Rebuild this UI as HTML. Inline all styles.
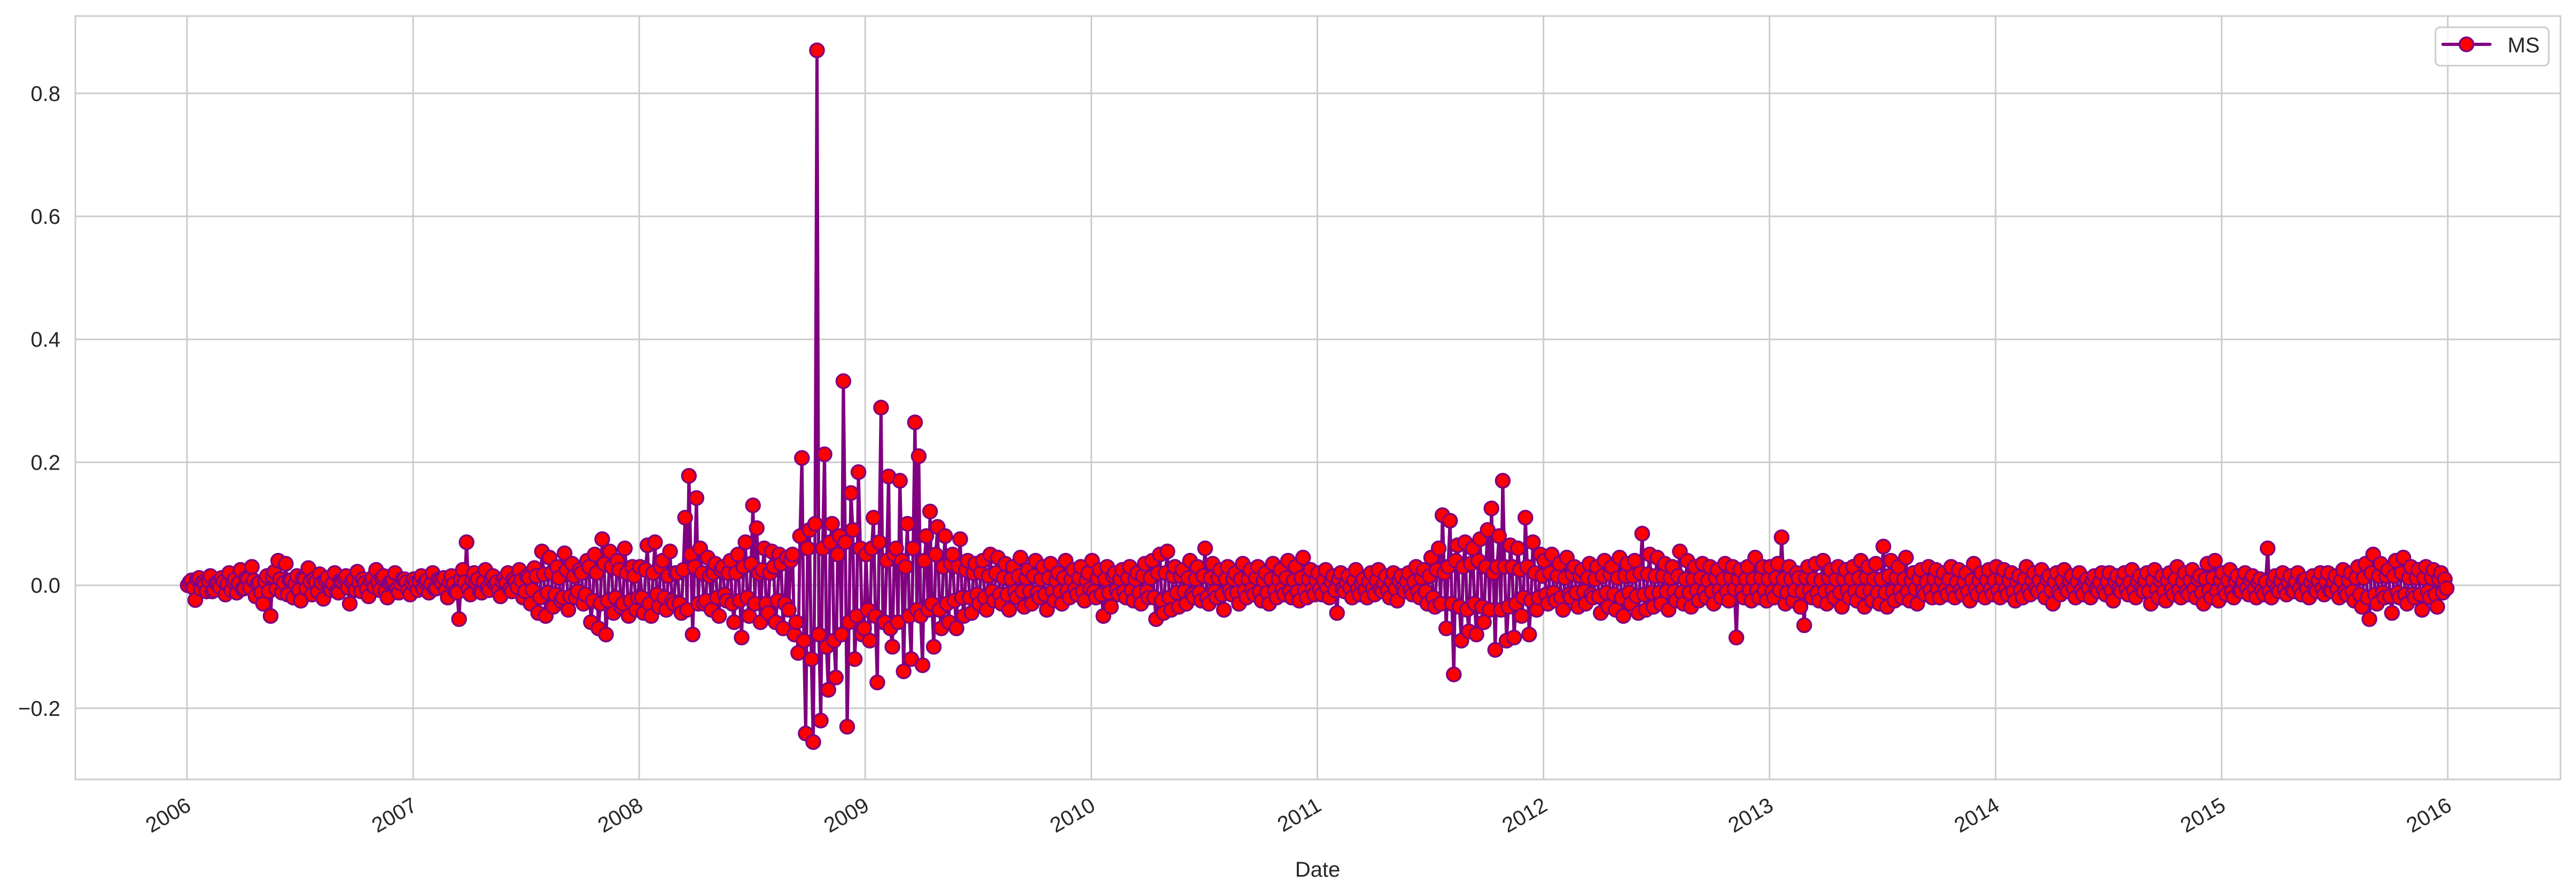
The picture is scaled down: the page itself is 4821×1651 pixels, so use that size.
<!DOCTYPE html>
<html><head><meta charset="utf-8"><style>
html,body{margin:0;padding:0;background:#fff;}
svg{display:block;font-family:"Liberation Sans",Arial,sans-serif;}
</style></head><body>
<svg id="chart" xmlns="http://www.w3.org/2000/svg" width="4821" height="1651" viewBox="0 0 4821 1651">
<rect width="4821" height="1651" fill="#fff"/>
<g id="grid"></g>
<g id="series"></g>
<g id="axes"></g>
<g>
<rect x="4558" y="51" width="212" height="72" rx="9" fill="#fff" fill-opacity="0.8" stroke="#cccccc" stroke-width="3"/>
<line x1="4572" y1="83" x2="4660" y2="83" stroke="#800080" stroke-width="6" stroke-linecap="round"/>
<circle cx="4616" cy="83" r="13" fill="#ff0000" stroke="#800080" stroke-width="3.5"/>
<text x="4693" y="98" font-size="40" fill="#262626">MS</text>
</g>
<text x="2466" y="1641" font-size="40" fill="#262626" text-anchor="middle">Date</text>
</svg>
<script>
const years=[2006,2007,2008,2009,2010,2011,2012,2013,2014,2015];
const yTicks=[-0.2,0,0.2,0.4,0.6,0.8];
const yTickLabels=["\u22120.2","0.0","0.2","0.4","0.6","0.8"];
const xTicks=[2006,2007,2008,2009,2010,2011,2012,2013,2014,2015,2016];
const v2006=[0,.008,-.024,.012,.005,-.01,.015,-.008,.003,.012,-.015,.02,.006,-.012,.025,-.005,.01,.03,-.018,.004,-.03,.015,-.05,.022,.04,-.012,.035,.008,-.02,.015,-.025,.01,.028,-.015,.005,.018,-.022,.012,-.008,.02,-.012,.006,.015,-.03,.01,.022,-.01,.004,-.018,.012,.025,-.008,.015,-.02,.006,.02,-.012,.01,.005,-.015];
const w2006=[.005,-.004,.01,-.006,.002,.008,-.01,.004,-.003,.006,.002,-.008,.01,.003,-.006,.012,-.004,.008,.002,-.012,.006,-.01,.015,-.006,.01,.004,-.015,.008,.002,-.008,.012,-.005,.006,.01,-.01,.004,.008,-.006,.003,-.01,.007,.012,-.004,.006,-.008,.004,.01,-.006,.008,-.003,.006,.012,-.01,.004,.008,-.006,.003,.01,-.008,.004];
const v2007=[.01,-.008,.015,.005,-.012,.02,-.005,.008,.012,-.02,.015,-.01,-.055,.025,.07,-.015,.02,.01,-.012,.025,-.008,.015,.005,-.018,.012,.02,-.01,.006,.025,-.02,.015,-.03,.028,-.045,.055,-.05,.045,-.035,.03,-.025,.052,-.04,.035,-.02,.025,-.03,.04,-.06,.05,-.07,.075,-.08,.055,-.045,.04,-.035,.06,-.05,.03,-.04];
const w2007=[.004,.006,-.005,.008,.002,-.006,.01,.003,-.008,.005,.002,-.012,.01,.005,-.006,.008,.004,-.01,.006,-.004,.01,.002,-.008,.006,.004,-.006,.01,-.003,.008,-.01,.012,-.008,.015,-.02,.018,-.012,.02,-.015,.012,-.02,.025,-.018,.015,-.01,.02,-.015,.03,-.025,.02,-.03,.035,-.025,.03,-.02,.025,-.03,.02,-.025,.015,-.02];
const v2008=[.03,-.045,.065,-.05,.07,-.035,.04,-.04,.055,-.03,.02,-.045,.11,.178,-.08,.142,.06,-.03,.045,-.04,.035,-.05,.03,-.025,.04,-.06,.05,-.085,.07,-.05,.13,.093,-.06,.06,-.045,.055,-.06,.05,-.07,.045,.04,-.08,-.11,.207,-.241,.09,-.255,.87,-.22,.213,-.17,.1,-.15,.08,.332,-.23,.15,-.12,.184,-.08];
const w2008=[-.02,.025,-.03,.02,-.015,.03,-.02,.015,-.025,.02,-.03,.025,-.04,.05,.03,-.03,.02,-.025,.015,.02,-.02,.025,-.015,.02,-.03,.02,-.025,.03,-.02,.035,-.03,.02,.025,-.03,.02,.03,-.025,.035,-.03,-.04,.05,-.06,.08,-.09,.06,-.12,.1,-.08,.06,-.1,.07,-.09,.05,-.08,.07,-.06,.09,-.05,.06,-.07];
const v2009=[.05,-.09,.11,-.158,.289,-.06,.177,-.1,.06,.17,-.14,.1,-.12,.265,.21,-.13,.08,.12,-.1,.095,-.07,.08,-.06,.05,-.07,.075,-.05,.04,-.045,.035,-.03,.04,-.04,.05,-.025,.045,-.03,.035,-.04,.03,-.02,.045,-.035,.025,-.03,.04,-.02,.03,-.04,.035,-.025,.02,-.03,.04,-.02,.025,-.015,.03,-.025,.02];
const w2009=[-.04,.06,-.05,.07,-.06,.04,-.07,.05,-.06,.04,.03,-.05,.06,-.04,-.05,.04,-.04,-.03,.05,-.04,.03,-.03,.035,-.025,.03,-.02,.025,-.02,.02,-.015,.02,-.02,.015,-.01,.02,-.015,.012,-.015,.01,-.01,.015,-.01,.012,-.01,.015,-.012,.01,-.015,.012,-.01,.008,-.01,.012,-.008,.01,-.006,.012,-.01,.008,-.006];
const v2010=[.04,-.02,.025,-.05,.03,-.035,.02,-.015,.025,-.02,.03,-.025,.02,-.03,.035,-.02,.04,-.055,.05,-.045,.055,-.04,.03,-.035,.025,-.03,.04,-.02,.03,-.025,.06,-.03,.035,-.02,.025,-.04,.03,-.015,.02,-.03,.035,-.02,.025,-.015,.03,-.025,.02,-.03,.035,-.02,.025,-.015,.04,-.02,.03,-.025,.045,-.02,.025,-.015];
const w2010=[-.01,.012,-.015,.01,-.012,.015,-.008,.01,-.01,.012,-.008,.01,-.012,.015,-.01,.012,-.02,.02,-.025,.02,-.02,.015,-.012,.015,-.01,.012,-.015,.01,-.012,.015,-.02,.012,-.01,.012,-.015,.01,-.008,.01,-.012,.01,-.008,.01,-.006,.012,-.01,.008,-.012,.01,-.008,.01,-.006,.012,-.01,.008,-.01,.012,-.008,.01,-.006,.008];
const v2011=[.02,-.015,.025,-.02,.015,-.045,.02,-.01,.015,-.02,.025,-.015,.01,-.02,.02,-.015,.025,-.01,.015,-.02,.02,-.025,.015,-.01,.02,-.015,.03,-.02,.025,-.03,.045,-.035,.06,.114,-.07,.105,-.145,.065,-.09,.07,-.075,.06,-.08,.075,-.06,.09,.125,-.105,.08,.17,-.09,.065,-.085,.06,-.05,.11,-.08,.07,-.04,.05];
const w2011=[-.006,.008,-.005,.006,-.008,.01,-.006,.005,-.004,.008,-.006,.004,-.008,.006,-.005,.008,-.006,.004,-.008,.006,-.006,.008,-.004,.006,-.008,.006,-.01,.012,-.01,.015,-.02,.025,-.03,.02,.03,-.03,.04,-.035,.03,-.04,.035,-.03,.04,-.035,.03,-.04,.02,.03,-.04,.03,-.035,.03,-.03,.025,-.02,.03,-.025,.02,-.02,.015];
const v2012=[.04,-.03,.05,-.025,.035,-.04,.045,-.02,.03,-.035,.025,-.03,.035,-.02,.03,-.045,.04,-.035,.03,-.04,.045,-.05,.035,-.03,.04,-.045,.084,-.04,.05,-.035,.045,-.03,.035,-.04,.03,-.025,.055,-.03,.04,-.035,.03,-.025,.035,-.02,.03,-.03,.025,-.02,.035,-.025,.03,-.085,.025,-.02,.03,-.025,.045,-.02,.03,-.025];
const w2012=[-.015,.02,-.012,.015,-.02,.012,-.015,.018,-.012,.015,-.01,.012,-.015,.01,-.018,.015,-.012,.018,-.015,.012,-.02,.015,-.012,.015,-.018,.02,-.015,.018,-.012,.015,-.012,.015,-.01,.012,-.01,.015,-.012,.01,-.012,.01,-.008,.012,-.01,.008,-.01,.012,-.008,.01,-.01,.012,-.006,.01,-.008,.01,-.008,.01,-.008,.012,-.008,.01];
const v2013=[.03,-.02,.035,.078,-.03,.03,-.025,.02,-.035,-.065,.03,-.02,.035,-.025,.04,-.03,.025,-.02,.03,-.035,.025,-.02,.03,-.025,.04,-.035,.03,-.025,.035,-.03,.063,-.035,.04,-.025,.03,-.02,.045,-.025,.02,-.03,.025,-.015,.03,-.02,.025,-.02,.02,-.015,.03,-.02,.025,-.015,.02,-.025,.035,-.015,.02,-.02,.025,-.015];
const w2013=[-.01,.012,-.008,.01,-.012,.01,-.008,.012,-.01,.012,-.008,.01,-.012,.008,-.01,.012,-.008,.01,-.012,.01,-.008,.01,-.01,.012,-.01,.012,-.008,.01,-.012,.01,-.012,.015,-.01,.012,-.008,.01,-.01,.008,-.006,.01,-.008,.006,-.008,.01,-.006,.008,-.006,.01,-.008,.006,-.008,.006,-.01,.008,-.006,.008,-.006,.008,-.006,.008];
const v2014=[.03,-.02,.025,-.015,.02,-.025,.015,-.02,.03,-.015,.02,-.01,.025,-.02,.015,-.03,.02,-.015,.025,-.01,.015,-.02,.02,-.015,.01,-.02,.015,-.01,.02,-.015,.02,-.025,.015,-.01,.02,-.015,.025,-.02,.015,-.01,.02,-.03,.025,-.02,.015,-.025,.02,-.015,.03,-.02,.02,-.015,.025,-.02,.015,-.03,.035,-.02,.04,-.025];
const w2014=[-.008,.01,-.006,.008,-.01,.006,-.008,.01,-.006,.008,-.005,.008,-.006,.01,-.008,.006,-.01,.008,-.006,.008,-.005,.006,-.008,.006,-.004,.008,-.006,.005,-.008,.006,-.008,.006,-.005,.008,-.006,.005,-.008,.006,-.005,.008,-.01,.008,-.006,.008,-.01,.008,-.006,.01,-.008,.006,-.01,.008,-.006,.01,-.012,.01,-.008,.012,-.01,.008];
const v2015=[.02,-.015,.025,-.02,.015,-.01,.02,-.015,.015,-.02,.01,-.015,.06,-.02,.015,-.01,.02,-.015,.015,-.01,.02,-.015,.01,-.02,.015,-.01,.02,-.015,.02,-.01,.015,-.02,.025,-.015,.02,-.025,.03,-.035,.035,-.055,.05,-.03,.035,-.02,.025,-.045,.04,-.02,.045,-.03,.03,-.02,.025,-.04,.03,-.02,.025,-.035,.02,.01];
const w2015=[-.006,.008,-.01,.006,-.008,.006,-.005,.008,-.006,.005,-.008,.006,-.01,.006,-.005,.008,-.006,.005,-.008,.006,-.005,.008,-.006,.005,-.006,.008,-.005,.006,-.008,.005,-.006,.008,-.01,.008,-.01,.012,-.015,.012,-.02,.02,-.015,.015,-.012,.015,-.018,.015,-.012,.02,-.015,.012,-.015,.012,-.015,.012,-.01,.012,-.015,.01,-.012,-.005];
const yearValues=[v2006,v2007,v2008,v2009,v2010,v2011,v2012,v2013,v2014,v2015];
const yearValuesB=[w2006,w2007,w2008,w2009,w2010,w2011,w2012,w2013,w2014,w2015];

const NS="http://www.w3.org/2000/svg";
const L=141,R=4792,T=30,B=1459;
function xs(t){return 350+(t-2006)*423.1;}
function ys(v){return 1095.6-v*1151;}
function mk(tag,attrs,parent){const e=document.createElementNS(NS,tag);for(const k in attrs)e.setAttribute(k,attrs[k]);parent.appendChild(e);return e;}
const grid=document.getElementById('grid'),axes=document.getElementById('axes'),ser=document.getElementById('series');
yTicks.forEach((v,i)=>{
  const g=mk('line',{x1:L,x2:R,y1:ys(v),y2:ys(v),stroke:'#cccccc','stroke-width':3},grid);
  
  
  const t=mk('text',{x:L-28,y:ys(v)+14,'font-size':40,fill:'#262626','text-anchor':'end'},axes);
  t.textContent=yTickLabels[i];
  
  
});
xTicks.forEach(yr=>{
  const x=xs(yr);
  const g=mk('line',{x1:x,x2:x,y1:T,y2:B,stroke:'#cccccc','stroke-width':3},grid);
  
  
  const t=mk('text',{x:x-4,y:B+32,'font-size':40,fill:'#262626','text-anchor':'end',transform:`rotate(-30 ${x-4} ${B+32})`,dy:'0.7em'},axes);
  t.textContent=String(yr);
  
  
});
const frame=mk('rect',{x:L,y:T,width:R-L,height:B-T,fill:'none',stroke:'#cccccc','stroke-width':3},axes);


// series: primary and in-between daily observations interleaved
const pts=[];
years.forEach((yr,k)=>{
  const a=yearValues[k],b=yearValuesB[k];
  const n=a.length+b.length;
  let j=0;
  for(let i=0;i<a.length;i++){
    pts.push([xs(yr+(j+0.4)/n),ys(a[i])]);j++;
    if(i<b.length){pts.push([xs(yr+(j+0.4)/n),ys(b[i])]);j++;}
  }
});
const path=mk('polyline',{points:pts.map(p=>p[0].toFixed(1)+','+p[1].toFixed(1)).join(' '),fill:'none',stroke:'#800080','stroke-width':6,'stroke-linejoin':'round'},ser);


pts.forEach(p=>{
  const c=mk('circle',{cx:p[0].toFixed(1),cy:p[1].toFixed(1),r:13,fill:'#ff0000',stroke:'#800080','stroke-width':3.5},ser);
  
  
});
</script>
</body></html>
